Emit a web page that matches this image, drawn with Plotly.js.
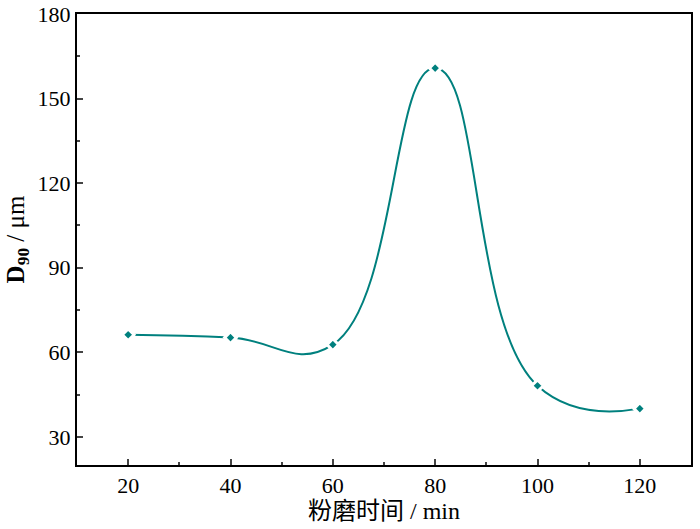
<!DOCTYPE html>
<html>
<head>
<meta charset="utf-8">
<script src="https://cdn.plot.ly/plotly-3.0.1.min.js"></script>
<style>body{margin:0;background:#fff}</style>
</head>
<body>
<div id="myDiv" style="width:700px;height:529px"></div>
<script>
var millTime = [20, 40, 60, 80, 100, 120];
var d90 = [66.2, 65.2, 62.7, 160.8, 48.1, 40.0];

var trace1 = {
  x: millTime,
  y: d90,
  mode: 'lines+markers',
  line: {shape: 'spline', smoothing: 1.3, color: '#00807e', width: 2},
  marker: {symbol: 'diamond', size: 9, color: '#00807e', line: {color: '#fff', width: 3}},
  type: 'scatter'
};

var font = '"Liberation Serif", "Noto Sans CJK SC", serif';

var layout = {
  width: 700, height: 529,
  margin: {l: 77, r: 9, t: 14, b: 64},
  showlegend: false,
  paper_bgcolor: '#fff', plot_bgcolor: '#fff',
  font: {family: font, size: 22, color: '#000'},
  xaxis: {
    title: {text: '粉磨时间 / min', font: {family: font, size: 24}, standoff: 4},
    range: [10, 130], dtick: 20, tick0: 0,
    tickfont: {family: font, size: 22},
    ticks: 'inside', ticklen: 6, tickwidth: 2,
    minor: {ticks: 'inside', ticklen: 3, tickwidth: 2, dtick: 10},
    showline: true, linewidth: 2, linecolor: '#000', mirror: true,
    showgrid: false, zeroline: false
  },
  yaxis: {
    title: {text: '<b>D<sub>90</sub></b> / μm', font: {family: font, size: 25}, standoff: 6},
    range: [20, 180], dtick: 30, tick0: 0,
    tickfont: {family: font, size: 22},
    ticks: 'inside', ticklen: 6, tickwidth: 2,
    minor: {ticks: 'inside', ticklen: 3, tickwidth: 2, dtick: 15},
    showline: true, linewidth: 2, linecolor: '#000', mirror: true,
    showgrid: false, zeroline: false
  }
};

Plotly.newPlot('myDiv', [trace1], layout, {displayModeBar: false});
</script>
</body>
</html>
